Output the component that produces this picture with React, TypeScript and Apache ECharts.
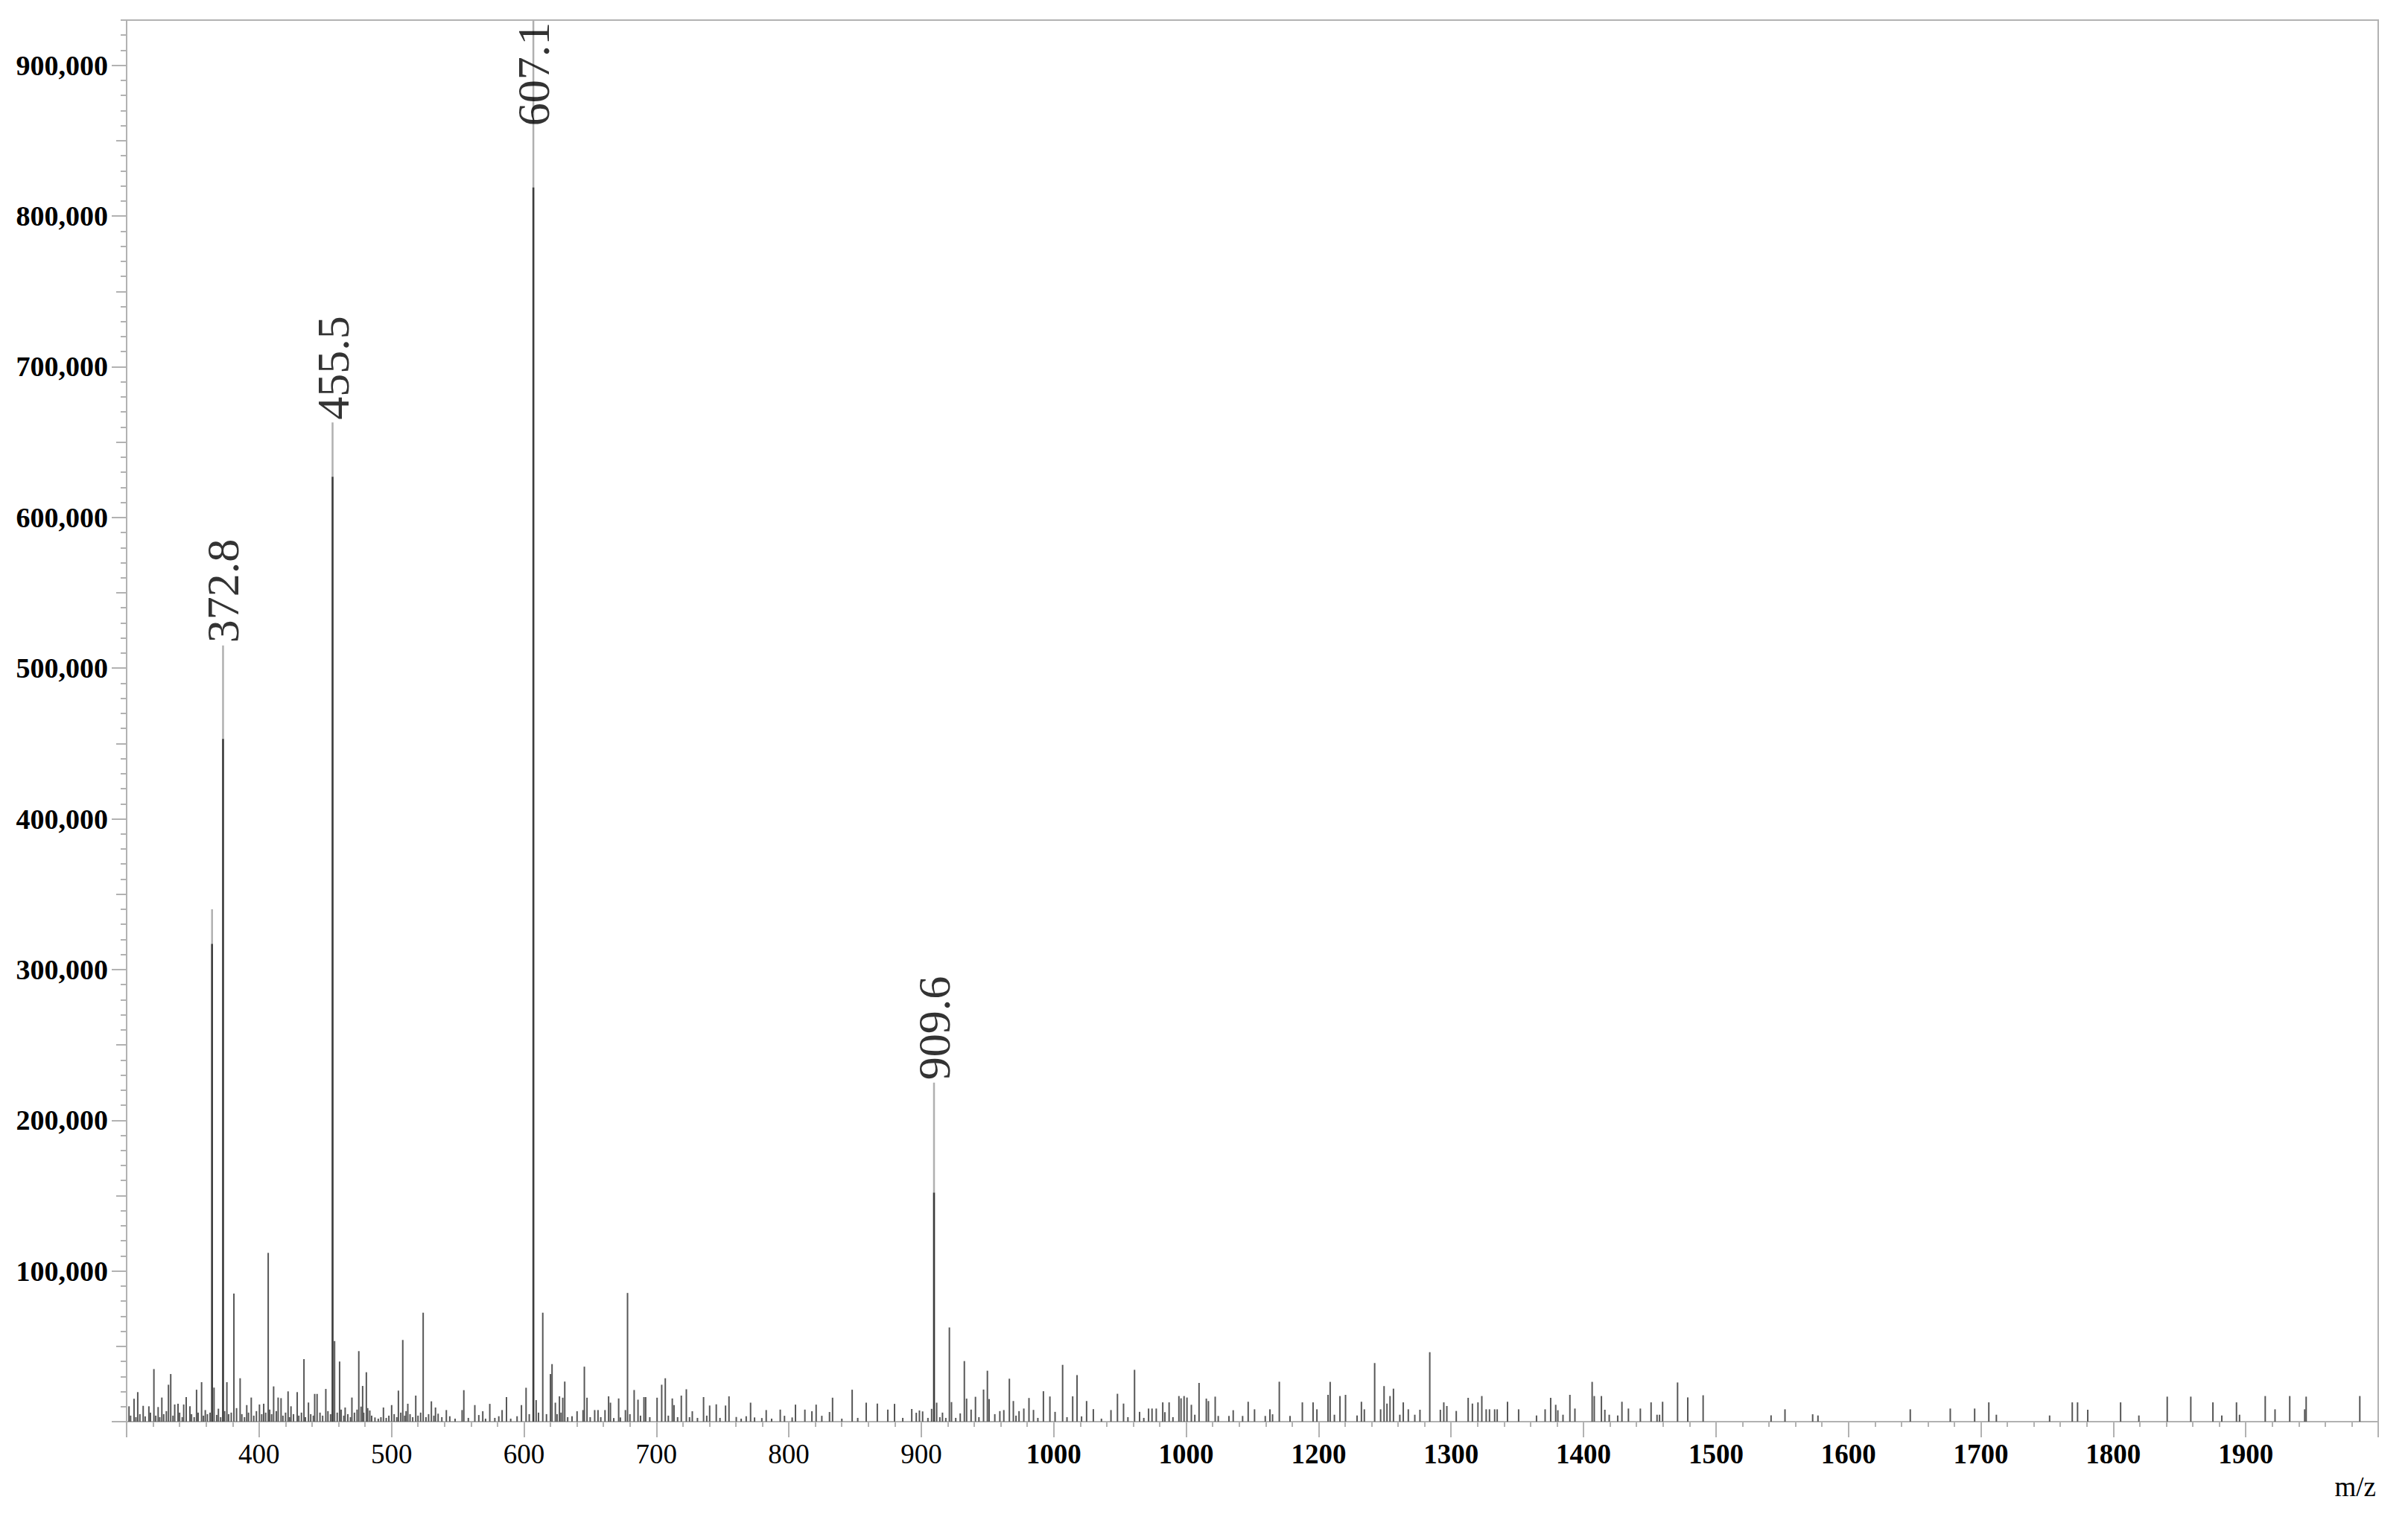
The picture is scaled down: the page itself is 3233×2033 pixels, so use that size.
import React, { useEffect, useRef } from 'react';
import * as echarts from 'echarts';

// ---- data (m/z, intensity) ----
const peaks300to545: [number, number][] = [
  [301.8, 10200], [303, 4000], [305.6, 15200], [307, 3000], [308.4, 19600], [310, 5000], [312.5, 10500], [314, 3500],
  [316.8, 10200], [318, 6000], [320.6, 34900], [322, 4000], [323.8, 9700], [325, 3000], [326.6, 16000], [328, 5000],
  [330, 7000], [331.6, 24500], [333.3, 31600], [335, 4000], [336.3, 11400], [338.8, 11900], [340, 6000], [342, 3000],
  [343.1, 11400], [345, 16300], [347.8, 10200], [349, 5000], [351, 3000], [352.8, 21200], [354, 6000], [356.6, 26200],
  [358, 4000], [359.4, 7700], [361, 5000], [363, 6000], [366, 22600], [368, 4500], [369.3, 8600], [371, 3000],
  [374, 7000], [375.7, 26200], [377, 5000], [379, 6000], [381, 85000], [383, 9000], [385.7, 28800], [387, 5000],
  [389, 3000], [390.7, 11000], [392, 6000], [394.1, 16000], [396, 4000], [398, 7000], [400.3, 11400], [402, 5000],
  [403.5, 11900], [405, 6000], [406.9, 112000], [408, 8000], [409.5, 5000], [411, 23400], [413, 7000], [414.4, 16000],
  [416.6, 15600], [418, 4000], [420, 6000], [421.9, 20100], [423, 3000], [424.1, 10200], [426, 5000], [428.8, 19600],
  [430, 4000], [432, 6000], [433.9, 41500], [435, 3000], [437.3, 12700], [439, 5000], [441, 4000], [442, 18400],
  [443.8, 18400], [446, 6000], [448, 4000], [450.4, 21700], [452, 7000], [454, 5000], [457, 53500], [459, 6000],
  [460.8, 39900], [462, 8000], [464, 4000], [465, 9400], [467, 5000], [469, 3000], [470.1, 16000], [472, 6000],
  [474, 8000], [475.3, 46800], [477, 10000], [478.2, 23700], [479, 6000], [481, 32800], [482, 9000], [483.6, 7400],
  [485, 4000], [487.5, 2800], [490, 2000], [492, 3000], [493.9, 9400], [496, 2500], [498, 4000], [500.1, 11000],
  [502, 5000], [504, 3000], [505.2, 20600], [507, 6000], [508.5, 54200], [510, 4000], [511, 7000], [512.3, 11900],
  [514, 5000], [516, 3000], [518.3, 17300], [520, 4000], [522, 6000], [523.9, 72300], [526, 3000], [528, 5000],
  [530.1, 13500], [532, 4000], [533.2, 9400], [535.2, 5300], [538, 3000], [541.4, 7700], [544, 3600],
];

const peaks545to900: [number, number][] = [
  [548, 2000], [553.3, 7700], [554.6, 20900], [558, 2500], [562.9, 11000], [565.9, 4400], [568.9, 6900], [571, 2000],
  [574.2, 11800], [578, 2500], [581, 3600], [583.5, 7700], [586.8, 16300], [590, 2000], [594.8, 3600], [598.1, 11000],
  [601.6, 22500], [604, 5000], [609.2, 14300], [611, 6000], [614.2, 72300], [617, 5000], [620, 31600], [621.2, 38200],
  [623.7, 12600], [625, 5000], [626.8, 16800], [628, 6000], [629.3, 15900], [630.8, 26600], [633, 3000], [636.3, 3600],
  [640.1, 6900], [644.6, 7700], [645.6, 36500], [647.6, 15900], [650, 3000], [653.4, 7700], [655.9, 7700], [658, 3000],
  [661.2, 7700], [663.9, 16800], [665.3, 12600], [667.8, 2400], [671.5, 15400], [672.8, 2800], [676.6, 7700], [678.2, 85400],
  [680, 5000], [683.2, 21000], [686.1, 14600], [688, 4000], [690.6, 16300], [691.9, 16300], [695, 3000], [700.5, 15900],
  [704, 24500], [706.7, 28800], [709, 4000], [712, 15400], [713.3, 11000], [716, 3000], [718.8, 17300], [722.6, 21500],
  [725, 3000], [727.1, 6900], [731, 2500], [735.6, 16300], [738, 4000], [740.2, 10700], [745.2, 11500], [748, 2500],
  [752.2, 10700], [754.8, 16800], [760.3, 3100], [764, 2000], [767.8, 3600], [771.1, 12600], [774.1, 2800], [779.6, 2400],
  [782.9, 7700], [787, 2000], [793.5, 8000], [796.7, 3900], [802.5, 2800], [805, 11300], [812.1, 8000], [817.4, 6900],
  [820.6, 11300], [824.9, 3900], [830.7, 6400], [833, 15900], [840, 2000], [847.8, 21200], [852, 2500], [858.4, 12600],
  [866.8, 12000], [874.7, 8000], [879.8, 11800], [886, 2500], [892.8, 8400], [896.2, 5900], [898.6, 7400],
];

const peaks900to1100: [number, number][] = [
  [901, 6800], [905, 2500], [907.8, 8500], [911.6, 12600], [914, 3000], [916, 6000], [918.5, 2500], [921.2, 62500],
  [922.8, 13000], [926, 2500], [929.4, 5500], [932.5, 40200], [934.2, 15300], [937.6, 8000], [940.9, 16500], [943.5, 3000],
  [947, 21300], [949.9, 33800], [951.2, 15000], [955.5, 5000], [959.3, 7000], [962.3, 7700], [966.5, 28500], [969.5, 13700],
  [971.5, 4000], [973.8, 7000], [977.4, 8700], [981.3, 15700], [984.7, 7800], [988, 2500], [992.2, 20200], [997.1, 16700],
  [1001, 6500], [1006.7, 37700], [1010, 3000], [1014.3, 16800], [1017.6, 30900], [1021, 3500], [1024.8, 13700], [1029.9, 8300],
  [1036, 2000], [1043.2, 7700], [1048.1, 18500], [1052.7, 12000], [1056, 3000], [1061, 34400], [1064.8, 6500], [1068, 2500],
  [1071.6, 8700], [1074.2, 8700], [1077.4, 8700], [1082.3, 12800], [1083.9, 6300], [1087.1, 12800], [1090, 3000], [1094.5, 17000],
  [1096.1, 15500], [1098.4, 17000],
];

const peaks1100to1500: [number, number][] = [
  [1100.6, 16000], [1103.9, 11200], [1106.5, 4600], [1109.7, 25700], [1115.2, 15300], [1116.8, 13700], [1121.9, 16600], [1124.2, 3800],
  [1132.3, 3800], [1135.5, 7600], [1142.6, 3800], [1146.8, 13200], [1151.6, 8200], [1159.7, 3800], [1163.2, 8200], [1165.2, 4900],
  [1170.3, 26500], [1178.4, 3800], [1187.7, 12800], [1195.8, 12800], [1198.7, 8200], [1207.1, 17800], [1208.7, 26400], [1211.9, 4600],
  [1216.1, 17000], [1220.3, 17800], [1229, 4100], [1232.3, 13200], [1234.5, 8200], [1242.3, 38900], [1246.8, 8200], [1249.4, 23600],
  [1251.6, 12000], [1253.9, 17000], [1256.5, 21900], [1261.3, 4600], [1263.9, 12800], [1267.7, 8200], [1272.6, 4600], [1276.5, 7900],
  [1283.9, 46100], [1291.9, 7900], [1294.5, 12800], [1296.8, 10400], [1303.9, 7100], [1312.9, 15800], [1316.1, 12000], [1320.3, 12800],
  [1323.2, 17000], [1326.5, 8200], [1329, 8200], [1332.9, 8200], [1334.8, 8200], [1342.6, 13200], [1351, 8200], [1364.5, 4100],
  [1371, 8200], [1375.2, 15800], [1379, 11200], [1380.6, 7600], [1384.5, 4600], [1389.7, 17800], [1393.5, 8700], [1406.5, 26400],
  [1408.1, 17000], [1413.5, 17000], [1416.1, 7900], [1419.4, 4600], [1425.8, 4100], [1429, 13200], [1433.9, 8700], [1442.9, 8700],
  [1451, 12800], [1455.5, 4600], [1457.4, 4600], [1459.7, 13200], [1471, 26000], [1478.7, 16100], [1490.3, 17500],
];

const peaks1500to2000: [number, number][] = [
  [1541.6, 4200], [1552.1, 8200], [1573, 4900], [1577, 4100], [1646.7, 8200], [1676.9, 8700], [1695.3, 8700], [1706, 12800],
  [1711.7, 4600], [1751.9, 4100], [1769, 12800], [1773, 12800], [1780.7, 7900], [1805.5, 12800], [1819.3, 4100], [1840.7, 16600],
  [1858.5, 16600], [1875.2, 12800], [1881.9, 4100], [1893, 12800], [1895.3, 4600], [1914.7, 17000], [1922.1, 8200], [1933.2, 17000],
  [1944.5, 8200], [1945.6, 16600], [1986.1, 17000],
];

// major peaks: full (light) height and darker core height
const majorMz = [364.5, 372.8, 455.5, 607.1, 909.6];
const majorTop = [340000, 515000, 663000, 930000, 225000];
const majorCore = [317000, 453000, 627000, 819000, 152000];

// peak annotations
const labelMz = [372.8, 455.5, 607.1, 909.6];
const labelHeight = [515000, 663000, 858000, 225000];
const labelText = ['372.8', '455.5', '607.1', '909.6'];

// axis ticks / labels
const xTickValues = [400, 500, 600, 700, 800, 900, 1000, 1100, 1200, 1300, 1400, 1500, 1600, 1700, 1800, 1900];
const xTickLabels = ['400', '500', '600', '700', '800', '900', '1000', '1000', '1200', '1300', '1400', '1500', '1600', '1700', '1800', '1900'];
const yTickValues = [100000, 200000, 300000, 400000, 500000, 600000, 700000, 800000, 900000];
const yTickLabels = ['100,000', '200,000', '300,000', '400,000', '500,000', '600,000', '700,000', '800,000', '900,000'];
const yHalfTicks = [50000, 150000, 250000, 350000, 450000, 550000, 650000, 750000, 850000];

const FONT = '"Liberation Serif", "Times New Roman", Times, serif';
const AXIS_GRAY = '#b2b2b2';

function stickRenderer(color: string, width: number) {
  return (params: any, api: any) => {
    const x = api.value(0);
    const y = api.value(1);
    const a = api.coord([x, 0]);
    const b = api.coord([x, y]);
    return {
      type: 'line',
      shape: { x1: a[0], y1: a[1], x2: b[0], y2: b[1] },
      style: { stroke: color, lineWidth: width },
    };
  };
}

export default function App() {
  const ref = useRef<HTMLDivElement>(null);

  useEffect(() => {
    if (!ref.current) return;
    const chart = echarts.init(ref.current, undefined, { renderer: 'svg' });

    const allPeaks = [...peaks300to545, ...peaks545to900, ...peaks900to1100, ...peaks1100to1500, ...peaks1500to2000];
    const majorFull = majorMz.map((m, i) => [m, majorTop[i]]);
    const majorInner = majorMz.map((m, i) => [m, majorCore[i]]);

    const yMin = 0;
    const yMax = 930000;

    const option: any = {
      animation: false,
      backgroundColor: '#ffffff',
      grid: {
        left: 170,
        right: 40,
        top: 27,
        bottom: 124,
        show: true,
        borderColor: AXIS_GRAY,
        borderWidth: 2,
        backgroundColor: 'transparent',
        containLabel: false,
        outerBoundsMode: 'none',
      },
      xAxis: [
        {
          type: 'value',
          min: 300,
          max: 2000,
          interval: 100,
          position: 'bottom',
          axisLine: { show: true, onZero: false, lineStyle: { color: AXIS_GRAY, width: 2 } },
          axisTick: { show: true, length: 21, lineStyle: { color: AXIS_GRAY, width: 2 } },
          minorTick: { show: true, splitNumber: 5, length: 7, lineStyle: { color: AXIS_GRAY, width: 2 } },
          splitLine: { show: false },
          minorSplitLine: { show: false },
          axisLabel: {
            margin: 25,
            formatter: (v: number) => {
              const i = xTickValues.indexOf(v);
              if (i < 0) return '';
              return v >= 1000 ? `{b|${xTickLabels[i]}}` : `{r|${xTickLabels[i]}}`;
            },
            rich: {
              r: { fontFamily: FONT, fontSize: 37, color: '#000', fontWeight: 'normal' },
              b: { fontFamily: FONT, fontSize: 37, color: '#000', fontWeight: 'bold' },
            },
          },
        },
      ],
      yAxis: [
        {
          type: 'value',
          min: yMin,
          max: yMax,
          interval: 100000,
          position: 'left',
          axisLine: { show: true, onZero: false, lineStyle: { color: AXIS_GRAY, width: 2 } },
          axisTick: { show: true, length: 20, customValues: [0, ...yTickValues], lineStyle: { color: AXIS_GRAY, width: 2 } },
          splitLine: { show: false },
          axisLabel: {
            margin: 25,
            customValues: yTickValues,
            formatter: (v: number) => {
              const i = yTickValues.indexOf(v);
              return i < 0 ? '' : yTickLabels[i];
            },
            fontFamily: FONT,
            fontSize: 38,
            fontWeight: 'bold',
            color: '#000',
          },
        },
        {
          type: 'value',
          min: yMin,
          max: yMax,
          interval: 50000,
          position: 'left',
          axisLine: { show: false },
          axisTick: { show: true, length: 14, customValues: yHalfTicks, lineStyle: { color: AXIS_GRAY, width: 2 } },
          axisLabel: { show: false },
          splitLine: { show: false },
        },
        {
          type: 'value',
          min: yMin,
          max: yMax,
          interval: 10000,
          position: 'left',
          axisLine: { show: false },
          axisTick: { show: true, length: 8, lineStyle: { color: AXIS_GRAY, width: 2 } },
          axisLabel: { show: false },
          splitLine: { show: false },
        },
      ],
      graphic: [
        {
          type: 'text',
          x: 3190,
          y: 1996,
          style: {
            text: 'm/z',
            font: `37px ${FONT}`,
            fill: '#000',
            align: 'right',
            verticalAlign: 'middle',
          },
        },
      ],
      series: [
        {
          type: 'custom',
          name: 'spectrum',
          xAxisIndex: 0,
          yAxisIndex: 0,
          data: allPeaks,
          encode: { x: 0, y: 1 },
          renderItem: stickRenderer('#575757', 2),
          silent: true,
          z: 2,
        },
        {
          type: 'custom',
          name: 'major-full',
          xAxisIndex: 0,
          yAxisIndex: 0,
          data: majorFull,
          encode: { x: 0, y: 1 },
          renderItem: stickRenderer('#b0b0b0', 2.5),
          silent: true,
          z: 3,
        },
        {
          type: 'custom',
          name: 'major-core',
          xAxisIndex: 0,
          yAxisIndex: 0,
          data: majorInner,
          encode: { x: 0, y: 1 },
          renderItem: stickRenderer('#3c3c3c', 2.5),
          silent: true,
          z: 4,
        },
        {
          type: 'scatter',
          name: 'labels',
          xAxisIndex: 0,
          yAxisIndex: 0,
          data: labelMz.map((m, i) => ({ value: [m, labelHeight[i]], name: labelText[i] })),
          symbolSize: 1,
          itemStyle: { color: 'rgba(0,0,0,0)' },
          silent: true,
          z: 10,
          label: {
            show: true,
            formatter: '{b}',
            position: 'top',
            distance: 3,
            rotate: 90,
            align: 'left',
            verticalAlign: 'middle',
            fontFamily: FONT,
            fontSize: 62,
            color: '#000',
          },
        },
      ],
    };

    chart.setOption(option);
    return () => {
      chart.dispose();
    };
  }, []);

  return (
    <div
      ref={ref}
      style={{ position: 'fixed', left: 0, top: 0, width: '3233px', height: '2033px', background: '#fff' }}
    />
  );
}
